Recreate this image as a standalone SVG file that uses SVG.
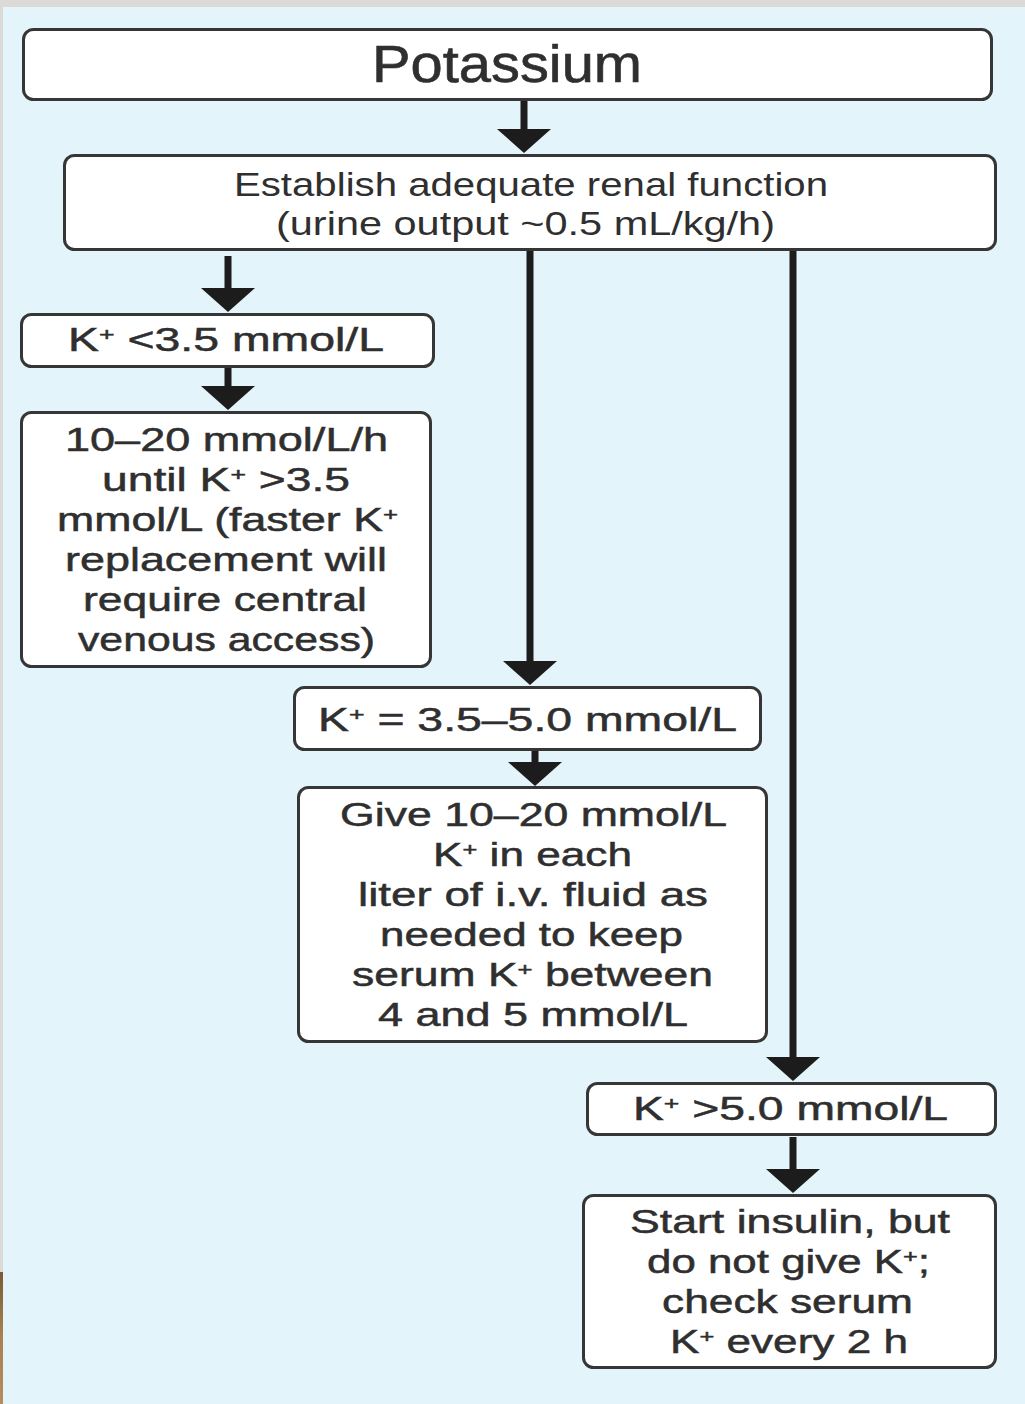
<svg xmlns="http://www.w3.org/2000/svg" width="1025" height="1404" viewBox="0 0 1025 1404">
  <defs>
    <style>
      .box { fill: #ffffff; stroke: #363636; stroke-width: 3; }
      .lbl { font-family: "Liberation Sans", Arial, sans-serif; font-size: 33px; fill: #2f2f2f; stroke: #2f2f2f; stroke-width: 0.5; text-anchor: middle; }
      .title { font-size: 51px; stroke-width: 0.6; }
      .renal { font-size: 33px; stroke-width: 0; }
      .sup { font-size: 19px; }
      .conn line { stroke: #1c1c1c; stroke-width: 7; marker-end: url(#head); }
    </style>
    <marker id="head" viewBox="0 -27 24 54" refX="1" refY="0" markerWidth="24" markerHeight="54" markerUnits="userSpaceOnUse" orient="auto">
      <path d="M0,-27 L24,0 L0,27 Z" fill="#1c1c1c"/>
    </marker>
    <linearGradient id="edge" x1="0" y1="0" x2="0" y2="1">
      <stop offset="0" stop-color="#7a5a34"/>
      <stop offset="0.5" stop-color="#a9834f"/>
      <stop offset="1" stop-color="#b48e5a"/>
    </linearGradient>
  </defs>

  <!-- page backdrop -->
  <rect x="0" y="0" width="1025" height="1404" fill="#dcdad6"/>
  <rect x="3" y="7" width="1022" height="1397" fill="#e3f4fb"/>
  <rect x="0" y="1272" width="3" height="132" fill="url(#edge)"/>

  <!-- connectors -->
  <g id="connectors" class="conn">
    <line x1="524" y1="101" x2="524" y2="130"/>
    <line x1="228" y1="256" x2="228" y2="289"/>
    <line x1="228" y1="368" x2="228" y2="387"/>
    <line x1="530" y1="250" x2="530" y2="662"/>
    <line x1="793" y1="250" x2="793" y2="1058"/>
    <line x1="535" y1="751" x2="535" y2="763"/>
    <line x1="793" y1="1137" x2="793" y2="1170"/>
  </g>

  <!-- nodes -->
  <g id="potassium">
    <rect class="box" x="23.5" y="29.5" width="968" height="70" rx="10"/>
    <text class="lbl title" x="507" y="82" textLength="270" lengthAdjust="spacingAndGlyphs">Potassium</text>
  </g>

  <g id="renal">
    <rect class="box" x="64.5" y="155.5" width="931" height="94" rx="10"/>
    <text class="lbl renal" x="531" y="196" textLength="594" lengthAdjust="spacingAndGlyphs">Establish adequate renal function</text>
    <text class="lbl renal" x="525.5" y="235" textLength="499" lengthAdjust="spacingAndGlyphs">(urine output ~0.5 mL/kg/h)</text>
  </g>

  <g id="k-low">
    <rect class="box" x="21.5" y="314.5" width="412" height="52" rx="10"/>
    <text class="lbl" x="226" y="351" textLength="316" lengthAdjust="spacingAndGlyphs">K<tspan class="sup" dy="-10">+</tspan><tspan dy="10"> &lt;3.5 mmol/L</tspan></text>
  </g>

  <g id="k-low-action">
    <rect class="box" x="21.5" y="412.5" width="409" height="254" rx="10"/>
    <text class="lbl" x="226.5" y="451" textLength="323" lengthAdjust="spacingAndGlyphs">10–20 mmol/L/h</text>
    <text class="lbl" x="226" y="491" textLength="248" lengthAdjust="spacingAndGlyphs">until K<tspan class="sup" dy="-10">+</tspan><tspan dy="10"> &gt;3.5</tspan></text>
    <text class="lbl" x="227.5" y="531" textLength="341" lengthAdjust="spacingAndGlyphs">mmol/L (faster K<tspan class="sup" dy="-10">+</tspan></text>
    <text class="lbl" x="226" y="571" textLength="322" lengthAdjust="spacingAndGlyphs">replacement will</text>
    <text class="lbl" x="225" y="611" textLength="284" lengthAdjust="spacingAndGlyphs">require central</text>
    <text class="lbl" x="226.5" y="651" textLength="297" lengthAdjust="spacingAndGlyphs">venous access)</text>
  </g>

  <g id="k-normal">
    <rect class="box" x="294.5" y="687.5" width="466" height="62" rx="10"/>
    <text class="lbl" x="527.5" y="731" textLength="419" lengthAdjust="spacingAndGlyphs">K<tspan class="sup" dy="-10">+</tspan><tspan dy="10"> = 3.5–5.0 mmol/L</tspan></text>
  </g>

  <g id="k-normal-action">
    <rect class="box" x="298.5" y="787.5" width="468" height="254" rx="10"/>
    <text class="lbl" x="533.5" y="826" textLength="387" lengthAdjust="spacingAndGlyphs">Give 10–20 mmol/L</text>
    <text class="lbl" x="532.5" y="866" textLength="199" lengthAdjust="spacingAndGlyphs">K<tspan class="sup" dy="-10">+</tspan><tspan dy="10"> in each</tspan></text>
    <text class="lbl" x="533" y="906" textLength="350" lengthAdjust="spacingAndGlyphs">liter of i.v. fluid as</text>
    <text class="lbl" x="531.5" y="946" textLength="303" lengthAdjust="spacingAndGlyphs">needed to keep</text>
    <text class="lbl" x="532.5" y="986" textLength="361" lengthAdjust="spacingAndGlyphs">serum K<tspan class="sup" dy="-10">+</tspan><tspan dy="10"> between</tspan></text>
    <text class="lbl" x="533" y="1026" textLength="310" lengthAdjust="spacingAndGlyphs">4 and 5 mmol/L</text>
  </g>

  <g id="k-high">
    <rect class="box" x="587.5" y="1083.5" width="408" height="51" rx="10"/>
    <text class="lbl" x="790.5" y="1120" textLength="315" lengthAdjust="spacingAndGlyphs">K<tspan class="sup" dy="-10">+</tspan><tspan dy="10"> &gt;5.0 mmol/L</tspan></text>
  </g>

  <g id="k-high-action">
    <rect class="box" x="583.5" y="1195.5" width="412" height="172" rx="10"/>
    <text class="lbl" x="790" y="1233" textLength="320" lengthAdjust="spacingAndGlyphs">Start insulin, but</text>
    <text class="lbl" x="788.5" y="1273" textLength="283" lengthAdjust="spacingAndGlyphs">do not give K<tspan class="sup" dy="-10">+</tspan><tspan dy="10">;</tspan></text>
    <text class="lbl" x="787.5" y="1313" textLength="251" lengthAdjust="spacingAndGlyphs">check serum</text>
    <text class="lbl" x="789" y="1353" textLength="238" lengthAdjust="spacingAndGlyphs">K<tspan class="sup" dy="-10">+</tspan><tspan dy="10"> every 2 h</tspan></text>
  </g>
</svg>
